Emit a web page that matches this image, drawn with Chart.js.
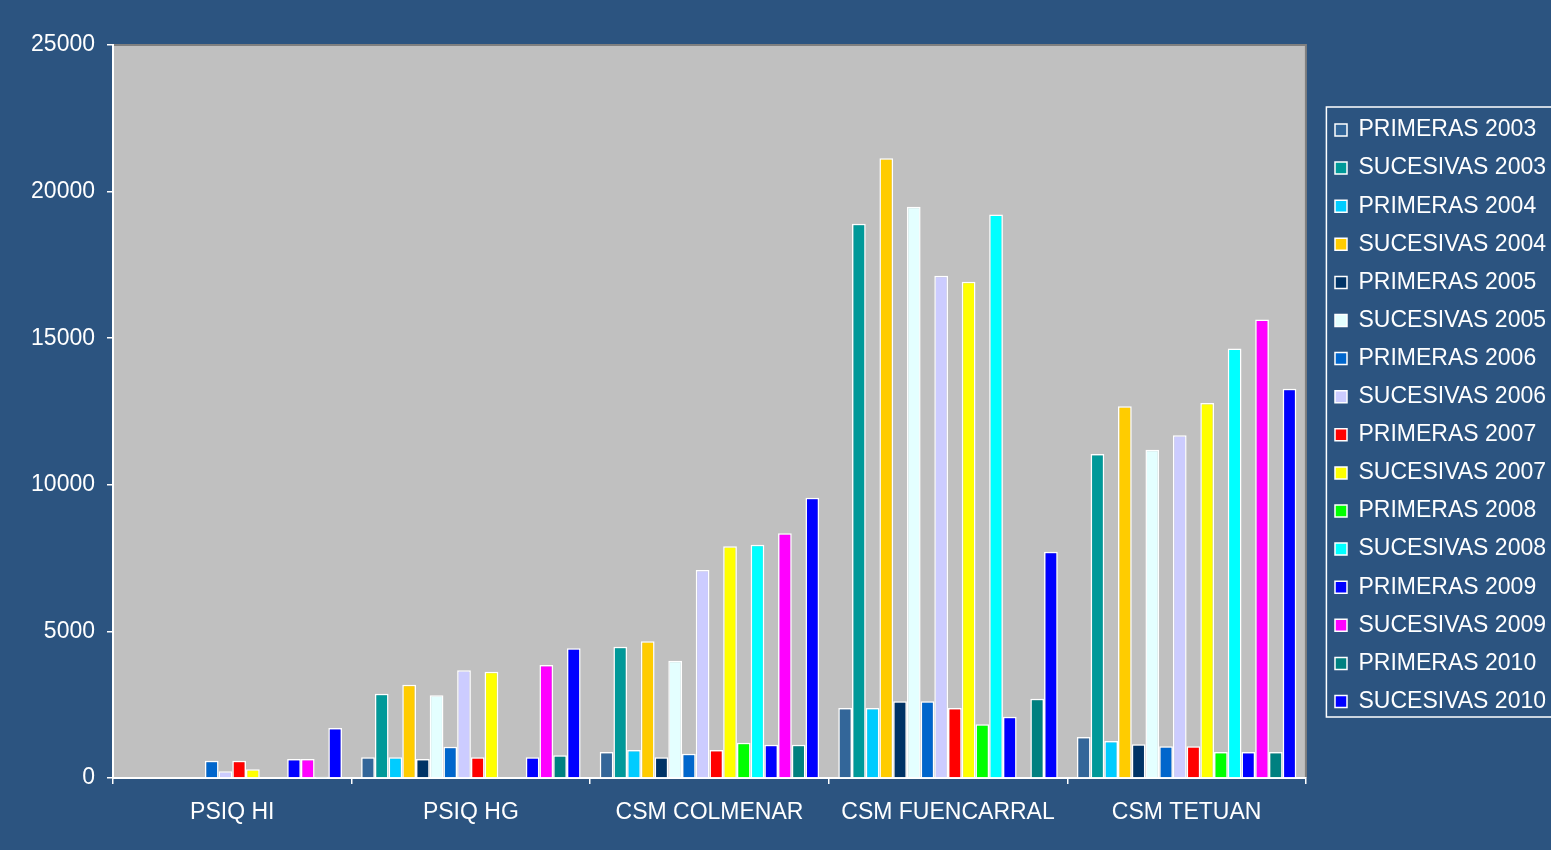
<!DOCTYPE html>
<html>
<head>
<meta charset="utf-8">
<title>PRIMERAS / SUCESIVAS</title>
<script src="https://cdn.jsdelivr.net/npm/chart.js@4"></script>
<style>
    html, body { margin: 0; padding: 0; background: #2c5480; }
    #wrap { width: 1551px; height: 850px; }
</style>
</head>
<body>
<div id="wrap"><canvas id="graph1" width="1551" height="850"></canvas></div>
<script>
//////////////////////////////// DATA ////////////////////////////////
var categories = ["PSIQ HI", "PSIQ HG", "CSM COLMENAR", "CSM FUENCARRAL", "CSM TETUAN"];

var primeras2003  = [null,  705,  887,  2388,  1398];
var sucesivas2003 = [null, 2876, 4479, 18906, 11052];
var primeras2004  = [null,  705,  955,  2388,  1262];
var sucesivas2004 = [null, 3183, 4661, 21138, 12678];
var primeras2005  = [null,  648,  705,  2614,  1148];
var sucesivas2005 = [null, 2820, 4001, 19485, 11199];
var primeras2006  = [590, 1069,  830,  2614,  1080];
var sucesivas2006 = [228, 3672, 7094, 17126, 11688];
var primeras2007  = [590,  705,  955,  2388,  1080];
var sucesivas2007 = [295, 3627, 7902, 16928, 12791];
var primeras2008  = [null, null, 1205,  1837,   887];
var sucesivas2008 = [null, null, 7958, 19217, 14645];
var primeras2009  = [648,  705, 1137,  2091,   887];
var sucesivas2009 = [648, 3854, 8345,  null, 15634];
var primeras2010  = [40,   773, 1137,  2699,   887];
var sucesivas2010 = [1705, 4423, 9561,  7715, 13280];

var seriesLabels = [
    "PRIMERAS 2003", "SUCESIVAS 2003", "PRIMERAS 2004", "SUCESIVAS 2004",
    "PRIMERAS 2005", "SUCESIVAS 2005", "PRIMERAS 2006", "SUCESIVAS 2006",
    "PRIMERAS 2007", "SUCESIVAS 2007", "PRIMERAS 2008", "SUCESIVAS 2008",
    "PRIMERAS 2009", "SUCESIVAS 2009", "PRIMERAS 2010", "SUCESIVAS 2010"
];
var seriesValues = [
    primeras2003, sucesivas2003, primeras2004, sucesivas2004,
    primeras2005, sucesivas2005, primeras2006, sucesivas2006,
    primeras2007, sucesivas2007, primeras2008, sucesivas2008,
    primeras2009, sucesivas2009, primeras2010, sucesivas2010
];
var seriesColors = [
    "#336699", "#009999", "#00ccff", "#ffcc00",
    "#003366", "#e4ffff", "#0066cc", "#ccccff",
    "#ff0000", "#ffff00", "#00ff00", "#00ffff",
    "#0000ff", "#ff00ff", "#008080", "#0000ff"
];
var yTicks = [0, 5000, 10000, 15000, 20000, 25000];

//////////////////////////////// STYLE ////////////////////////////////
var pageBg = "#2c5480";
var plotBg = "#c0c0c0";
var textCol = "#ffffff";
var legendPad = 15.1;

Chart.defaults.font.family = "'Liberation Sans', Arial, sans-serif";
Chart.defaults.font.size = 23;
Chart.defaults.color = textCol;

//Build datasets from the arrays
var datasets = [];
seriesLabels.forEach((label, i) => {
    datasets.push({
        label: label,
        data: seriesValues[i],
        backgroundColor: seriesColors[i],
        borderColor: "#ffffff",
        borderWidth: 1.5,
        categoryPercentage: 0.92,
        barPercentage: 1.0
    });
});

//Page background, grey plot area and legend frame
var framePlugin = {
    id: "frame",
    beforeDraw(chart) {
        var ctx = chart.ctx;
        ctx.save();
        ctx.fillStyle = pageBg;
        ctx.fillRect(0, 0, chart.width, chart.height);
        var a = chart.chartArea;
        ctx.fillStyle = plotBg;
        ctx.fillRect(a.left, a.top, a.right - a.left, a.bottom - a.top);
        ctx.strokeStyle = "#808080";
        ctx.lineWidth = 2;
        ctx.beginPath();
        ctx.moveTo(a.left, a.top);
        ctx.lineTo(a.right, a.top);
        ctx.lineTo(a.right, a.bottom);
        ctx.stroke();
        ctx.restore();
    },
    afterLayout(chart) {
        // place the legend column like the original box
        var lg = chart.legend;
        var w = lg.right - lg.left;
        lg.left = chart.chartArea.right + 14;
        lg.right = lg.left + w;
        var colH = lg.columnSizes[0].height;
        // first row top should sit at 118.5
        var shift = (2 * 118.5 - legendPad + colH - lg.top - lg.bottom) / 2;
        lg.top += shift;
        lg.bottom += shift;
    },
    afterDraw(chart) {
        var lg = chart.legend;
        var colH = lg.columnSizes[0].height;
        var firstRow = (lg.top + legendPad + lg.bottom - colH) / 2;
        var ctx = chart.ctx;
        ctx.save();
        ctx.strokeStyle = "#ffffff";
        ctx.lineWidth = 1.5;
        ctx.strokeRect(lg.left + 6.5, firstRow - 11.5, 240, 610);
        ctx.restore();
    }
};

var ctx = document.getElementById("graph1").getContext("2d");
var graph1 = new Chart(ctx, {
    type: "bar",
    data: { labels: categories, datasets: datasets },
    plugins: [framePlugin],
    options: {
        responsive: false,
        animation: false,
        layout: { padding: { top: 45, left: 0, right: 9, bottom: 0 } },
        plugins: {
            tooltip: { enabled: false },
            legend: {
                position: "right",
                maxWidth: 246,
                labels: {
                    color: textCol,
                    boxWidth: 12,
                    boxHeight: 12,
                    padding: legendPad,
                    font: { size: 23 }
                }
            }
        },
        scales: {
            x: {
                grid: {
                    display: true,
                    drawOnChartArea: false,
                    offset: true,
                    tickLength: 6,
                    color: "#ffffff",
                    lineWidth: 1.5
                },
                border: { color: "#ffffff", width: 2 },
                ticks: { color: textCol, padding: 15, maxRotation: 0, font: { size: 23 } },
                afterFit(scale) { scale.height = 72; }
            },
            y: {
                min: 0,
                max: 25000,
                afterBuildTicks(scale) {
                    scale.ticks = yTicks.map(v => ({ value: v }));
                },
                grid: {
                    display: true,
                    drawOnChartArea: false,
                    tickLength: 6,
                    color: "#ffffff",
                    lineWidth: 1.5
                },
                border: { color: "#ffffff", width: 2 },
                ticks: {
                    color: textCol,
                    padding: 12,
                    font: { size: 23 },
                    callback: function(value){ return String(value); }
                },
                afterFit(scale) { scale.width = 113; }
            }
        }
    }
});
</script>
</body>
</html>
